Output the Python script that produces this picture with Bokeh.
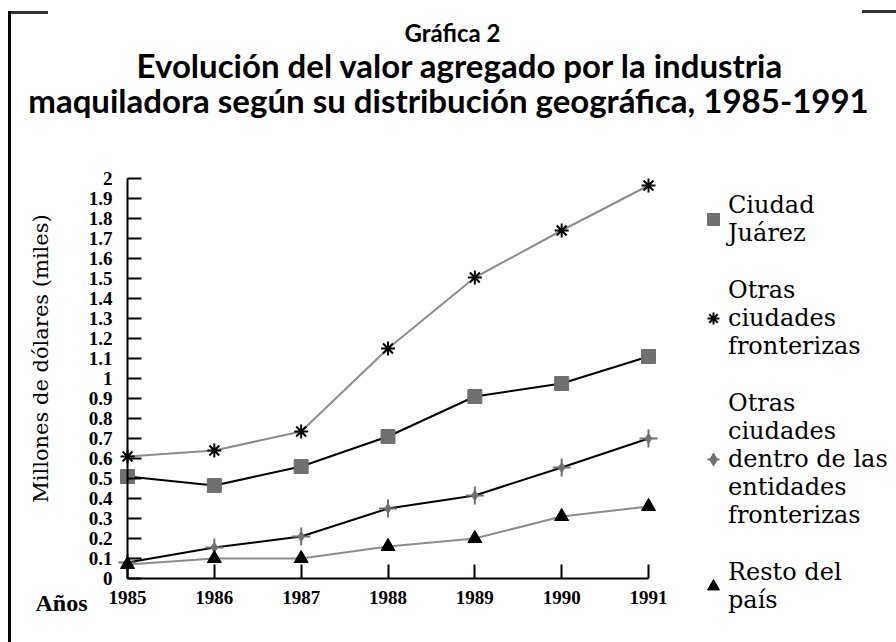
import math
from bokeh.plotting import figure
from bokeh.models import Range1d, Legend, LegendItem, Label, FixedTicker
from bokeh.embed import file_html
from bokeh.resources import INLINE

# ---------------- data ----------------
years = [1985, 1986, 1987, 1988, 1989, 1990, 1991]
year_labels = ["1985", "1986", "1987", "1988", "1989", "1990", "1991"]
ciudad_juarez = [0.51, 0.465, 0.56, 0.71, 0.91, 0.975, 1.11]
otras_fronterizas = [0.61, 0.64, 0.735, 1.15, 1.505, 1.74, 1.965]
otras_dentro = [0.08, 0.155, 0.21, 0.35, 0.415, 0.555, 0.70]
resto_pais = [0.07, 0.10, 0.10, 0.16, 0.20, 0.31, 0.36]
y_ticks = [i / 10 for i in range(0, 21)]
y_tick_labels = ["0", "0.1", "0.2", "0.3", "0.4", "0.5", "0.6", "0.7", "0.8", "0.9",
                 "1", "1.1", "1.2", "1.3", "1.4", "1.5", "1.6", "1.7", "1.8", "1.9", "2"]
series_names = ["Ciudad\nJuárez", "Otras\nciudades\nfronterizas",
                "Otras\nciudades\ndentro de las\nentidades\nfronterizas", "Resto del\npaís"]
title_lines = ["Gráfica 2",
               "Evolución del valor agregado por la industria",
               "maquiladora según su distribución geográfica, 1985-1991"]
y_title = "Millones de dólares (miles)"
x_title = "Años"

SERIF = "Liberation Serif"
WIDE_SERIF = "DejaVu Serif"
TITLE_FONT = "Lato"
W, H = 896, 642
PX_YEAR = (648 - 127) / 6     # px per year
PX_UNIT = 200                 # px per million
X0_PX, Y0_PX = 127, 578       # pixel of (1985, 0)


def px_x(px):
    return years[0] + (px - X0_PX) / PX_YEAR


def px_y(py):
    return (Y0_PX - py) / PX_UNIT


p = figure(width=W, height=H, output_backend="svg", toolbar_location=None,
           x_range=Range1d(px_x(0), px_x(W)), y_range=Range1d(px_y(H), px_y(0)),
           min_border_left=0, min_border_right=0, min_border_bottom=0, min_border_top=0)
p.outline_line_color = None
p.grid.visible = False
p.background_fill_alpha = 0
p.border_fill_alpha = 0
p.styles = {
    "background-color": "white",
    "background-image": "linear-gradient(#000,#000), linear-gradient(#333,#333), linear-gradient(#333,#333)",
    "background-size": "3px 632px, 40px 3px, 34px 3px",
    "background-position": "8px 11px, 8px 11px, 862px 10px",
    "background-repeat": "no-repeat",
}

# title block
for txt, size, cx, base in [(title_lines[0], "24px", 452, 32),
                            (title_lines[1], "33px", 460, 64),
                            (title_lines[2], "33px", 448, 99)]:
    p.add_layout(Label(x=px_x(cx), y=px_y(base), text=txt, text_align="center",
                       text_baseline="alphabetic", text_font=TITLE_FONT, text_font_size=size,
                       text_font_style="bold", text_color="black"))

# axes drawn at the data origin
xa = p.xaxis[0]
ya = p.yaxis[0]
xa.fixed_location = 0
ya.fixed_location = years[0]
xa.bounds = (years[0], years[-1])
ya.bounds = (y_ticks[0], y_ticks[-1])
xa.ticker = FixedTicker(ticks=years)
xa.major_label_overrides = {y: l for y, l in zip(years, year_labels)}
ya.ticker = FixedTicker(ticks=y_ticks)
ya.major_label_overrides = {t: l for t, l in zip(y_ticks, y_tick_labels)}
for ax in (xa, ya):
    ax.axis_line_width = 2
    ax.axis_line_color = "black"
    ax.major_tick_line_width = 2
    ax.major_tick_line_color = "black"
    ax.major_tick_in = 14
    ax.major_tick_out = 0
    ax.minor_tick_line_color = None
    ax.major_label_text_font = SERIF
    ax.major_label_text_font_style = "bold"
    ax.major_label_text_font_size = "19px"
    ax.major_label_text_color = "black"
ya.major_label_standoff = 15
xa.major_label_standoff = 12

LINE_W = 2
GRAY_LINE = "#8c8c8c"
GRAY_MARK = "#707070"

l1 = p.line(years, ciudad_juarez, line_color="black", line_width=LINE_W)
m1 = p.scatter(years, ciudad_juarez, marker="square", size=14, fill_color=GRAY_MARK, line_color=GRAY_MARK)

l2 = p.line(years, otras_fronterizas, line_color=GRAY_LINE, line_width=LINE_W)
m2 = p.scatter(years, otras_fronterizas, marker="asterisk", size=14, line_color="black", line_width=2)

l3 = p.line(years, otras_dentro, line_color="black", line_width=LINE_W)
m3a = p.scatter(years, otras_dentro, marker="cross", size=18, line_color=GRAY_MARK, line_width=2)
m3b = p.scatter(years, otras_dentro, marker="diamond", size=10, fill_color=GRAY_MARK, line_color=GRAY_MARK)

l4 = p.line(years, resto_pais, line_color=GRAY_LINE, line_width=LINE_W)
m4 = p.scatter(years, resto_pais, marker="triangle", size=14, fill_color="black", line_color="black")

legend = Legend(items=[
    LegendItem(label=series_names[0], renderers=[m1]),
    LegendItem(label=series_names[1], renderers=[m2]),
    LegendItem(label=series_names[2], renderers=[m3a, m3b]),
    LegendItem(label=series_names[3], renderers=[m4]),
], location=(698, 28), label_text_font=WIDE_SERIF, label_text_font_size="24px",
    label_text_color="black",
    glyph_width=30, glyph_height=30, label_standoff=0, spacing=29, padding=0, margin=0,
    border_line_color=None, background_fill_alpha=0)
p.add_layout(legend)

# axis captions
p.add_layout(Label(x=px_x(40), y=px_y(358), text=y_title, angle=math.pi / 2,
                   text_align="center", text_baseline="middle", text_font=WIDE_SERIF,
                   text_font_size="21px", text_color="black"))
p.add_layout(Label(x=px_x(35), y=px_y(602), text=x_title, text_align="left",
                   text_baseline="middle", text_font=SERIF, text_font_style="bold",
                   text_font_size="24px", text_color="black"))

open("out.html", "w").write(file_html(p, INLINE))
